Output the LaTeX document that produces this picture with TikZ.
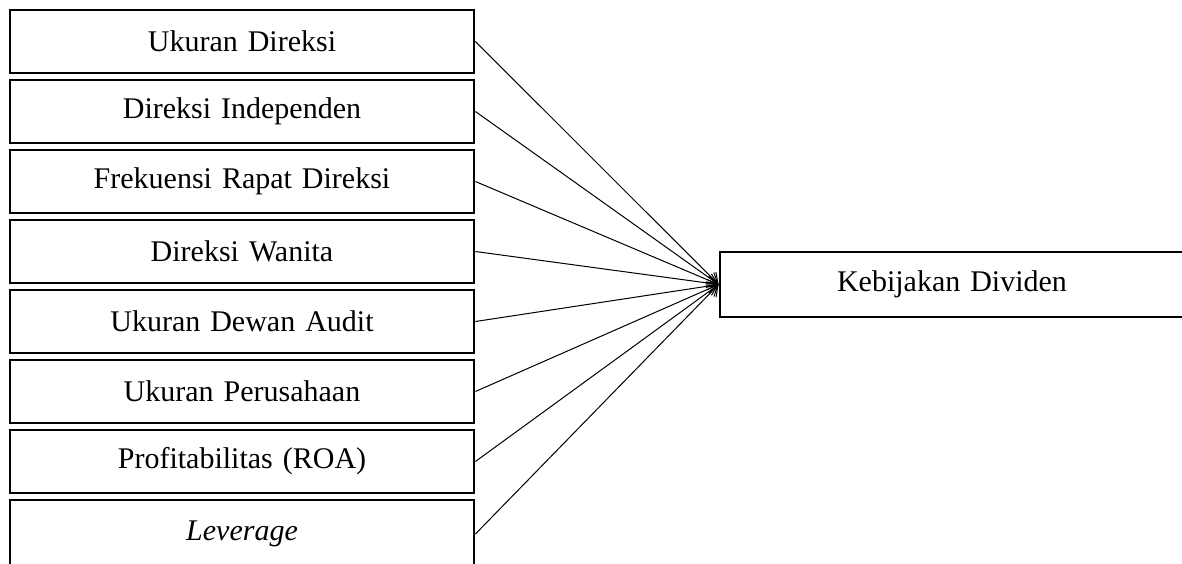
\documentclass[tikz,border=0pt]{standalone}
\usepackage{fontspec}
\setmainfont{Liberation Serif}
\usepackage{tikz}
\usetikzlibrary{arrows.meta}
\tikzstyle{block} = [rectangle, draw, line width=1.4pt, text width=220pt, text centered, minimum width=232pt, minimum height=31.5pt, font=\fontsize{15}{18}\selectfont]
\tikzstyle{line} = [draw, line width=0.5pt, -{Straight Barb[length=5pt,width=7pt]}]

\begin{document}
\begin{tikzpicture}[node distance = 35pt, auto]
\useasboundingbox (0pt,0pt) rectangle (591pt,-281.5pt);
\node [block] (ukuran) at (121pt,-20.75pt) {Ukuran Direksi};
\node [block, below of=ukuran] (independen) {Direksi Independen};
\node [block, below of=independen] (rapat) {Frekuensi Rapat Direksi};
\node [block, below of=rapat] (wanita) {Direksi Wanita};
\node [block, below of=wanita] (audit) {Ukuran Dewan Audit};
\node [block, below of=audit] (perusahaan) {Ukuran Perusahaan};
\node [block, below of=perusahaan] (roa) {Profitabilitas (ROA)};
\node [block, below of=roa, minimum height=34pt, yshift=-1.25pt] (leverage) {\textit{Leverage}};
\node [block, minimum height=32.5pt] (dividen) at (476pt,-142.25pt) {Kebijakan Dividen};
% Draw the edges
\path [line] (ukuran.east) -- (dividen.west);
\path [line] (independen.east) -- (dividen.west);
\path [line] (rapat.east) -- (dividen.west);
\path [line] (wanita.east) -- (dividen.west);
\path [line] (audit.east) -- (dividen.west);
\path [line] (perusahaan.east) -- (dividen.west);
\path [line] (roa.east) -- (dividen.west);
\path [line] (leverage.east) -- (dividen.west);
\end{tikzpicture}
\end{document}
